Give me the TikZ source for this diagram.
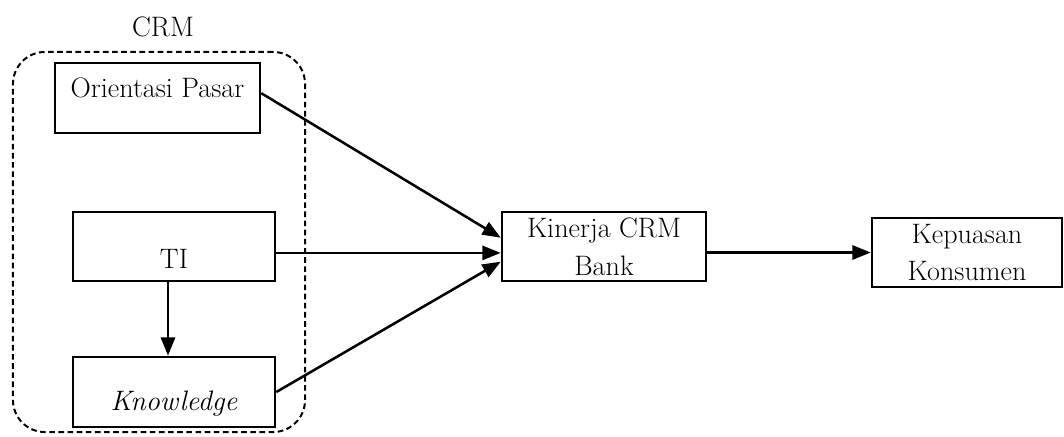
\documentclass[tikz,border=0pt]{standalone}
\usetikzlibrary{arrows.meta}
\begin{document}
\begin{tikzpicture}[x=0.025cm,y=-0.025cm,font=\fontsize{20}{27}\selectfont,
  bx/.style={draw,line width=1.8pt,inner sep=0pt},
  two/.style={align=center},
  grp/.style={draw,line width=1.4pt,dash pattern=on 4pt off 2.5pt,rounded corners=0.8cm,minimum width=7.3cm,minimum height=9.5cm,inner sep=0pt},
  arr/.style={line width=1.8pt,-{Triangle[length=13pt,width=10pt]}}]
  \useasboundingbox (0,0) rectangle (1064,436);
  \node[grp] (crmbox) at (159,242){};
  \node (crm) at (163,27){CRM};
  \node[bx,minimum width=5.125cm,minimum height=1.75cm,text height=14pt,text depth=14.5pt] (op) at (157.5,98){Orientasi Pasar};
  \node[bx,minimum width=5.05cm,minimum height=1.725cm,text height=31pt,text depth=0pt] (ti) at (174,246.5){TI};
  \node[bx,minimum width=5.05cm,minimum height=1.75cm,text height=27pt,text depth=0pt] (kn) at (174,392){\textit{Knowledge}};
  \node[bx,two,minimum width=5.1cm,minimum height=1.725cm] (kin) at (604,246.5){Kinerja CRM\\Bank};
  \node[bx,two,minimum width=4.75cm,minimum height=1.725cm] (kep) at (967,252.5){Kepuasan\\Konsumen};
  \draw[arr] ([yshift=0.12cm]op.east) -- ([yshift=0.22cm]kin.west);
  \draw[arr] ([yshift=-0.16cm]ti.east) -- ([yshift=-0.16cm]kin.west);
  \draw[arr] (kn.east) -- ([yshift=-0.38cm]kin.west);
  \draw[arr] ([xshift=-0.15cm]ti.south) -- ([xshift=-0.15cm]kn.north);
  \draw[arr] (kin.east |- kep.west) -- (kep.west);
\end{tikzpicture}
\end{document}
